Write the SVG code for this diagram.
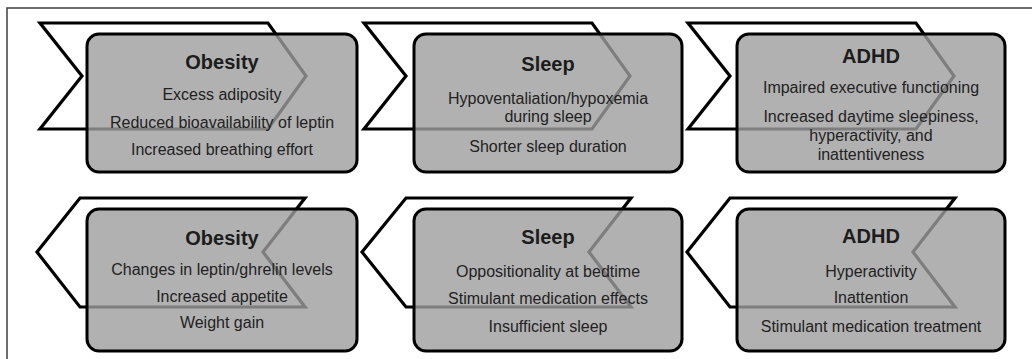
<svg xmlns="http://www.w3.org/2000/svg" width="1032" height="359" viewBox="0 0 1032 359">
<style>
.frame{fill:none;stroke:#4a4a4a;stroke-width:1.6}
.chev{fill:#ffffff;stroke:#000;stroke-width:3.2;stroke-linejoin:miter}
.box{fill:#9e9e9e;fill-opacity:0.8;stroke:#000;stroke-width:3}
.t{font-family:"Liberation Sans",Arial,sans-serif;font-weight:bold;font-size:20px;fill:#1c1c1c;text-anchor:middle}
.b{font-family:"Liberation Sans",Arial,sans-serif;font-size:16px;fill:#222;text-anchor:middle}
</style>
<rect width="1032" height="359" fill="#fff"/>
<rect class="frame" x="7" y="8" width="1040" height="360"/>
<g id="connectors"></g>

<g id="obesity-top">
<polygon class="chev" points="40,23 268,23 306,76 268,129 40,129 82,76"/>
<rect class="box" x="87" y="34" width="270" height="138" rx="12"/>
<text class="t" x="222" y="69">Obesity</text>
<text class="b" x="222" y="100">Excess adiposity</text>
<text class="b" x="222" y="128">Reduced bioavailability of leptin</text>
<text class="b" x="222" y="155">Increased breathing effort</text>
</g>

<g id="sleep-top">
<polygon class="chev" points="364,23 592,23 630,76 592,129 364,129 406,76"/>
<rect class="box" x="414" y="34" width="268" height="138" rx="12"/>
<text class="t" x="548" y="71">Sleep</text>
<text class="b" x="548" y="104">Hypoventaliation/hypoxemia</text>
<text class="b" x="548" y="122">during sleep</text>
<text class="b" x="548" y="152">Shorter sleep duration</text>
</g>

<g id="adhd-top">
<polygon class="chev" points="688,23 916,23 954,76 916,129 688,129 730,76"/>
<rect class="box" x="737" y="34" width="268" height="138" rx="12"/>
<text class="t" x="871" y="63">ADHD</text>
<text class="b" x="871" y="93">Impaired executive functioning</text>
<text class="b" x="871" y="122">Increased daytime sleepiness,</text>
<text class="b" x="871" y="141">hyperactivity, and</text>
<text class="b" x="871" y="160">inattentiveness</text>
</g>

<g id="obesity-bottom">
<polygon class="chev" points="37,252 80,198 305,198 263,252 305,307 80,307"/>
<rect class="box" x="87" y="209" width="270" height="142" rx="12"/>
<text class="t" x="222" y="245">Obesity</text>
<text class="b" x="222" y="275">Changes in leptin/ghrelin levels</text>
<text class="b" x="222" y="302">Increased appetite</text>
<text class="b" x="222" y="328">Weight gain</text>
</g>

<g id="sleep-bottom">
<polygon class="chev" points="362,252 406,198 631,198 589,252 631,307 406,307"/>
<rect class="box" x="414" y="209" width="268" height="142" rx="12"/>
<text class="t" x="548" y="244">Sleep</text>
<text class="b" x="548" y="277">Oppositionality at bedtime</text>
<text class="b" x="548" y="304">Stimulant medication effects</text>
<text class="b" x="548" y="332">Insufficient sleep</text>
</g>

<g id="adhd-bottom">
<polygon class="chev" points="687,252 730,198 955,198 913,252 955,307 730,307"/>
<rect class="box" x="737" y="209" width="268" height="142" rx="12"/>
<text class="t" x="871" y="243">ADHD</text>
<text class="b" x="871" y="277">Hyperactivity</text>
<text class="b" x="871" y="303">Inattention</text>
<text class="b" x="871" y="332">Stimulant medication treatment</text>
</g>
</svg>
